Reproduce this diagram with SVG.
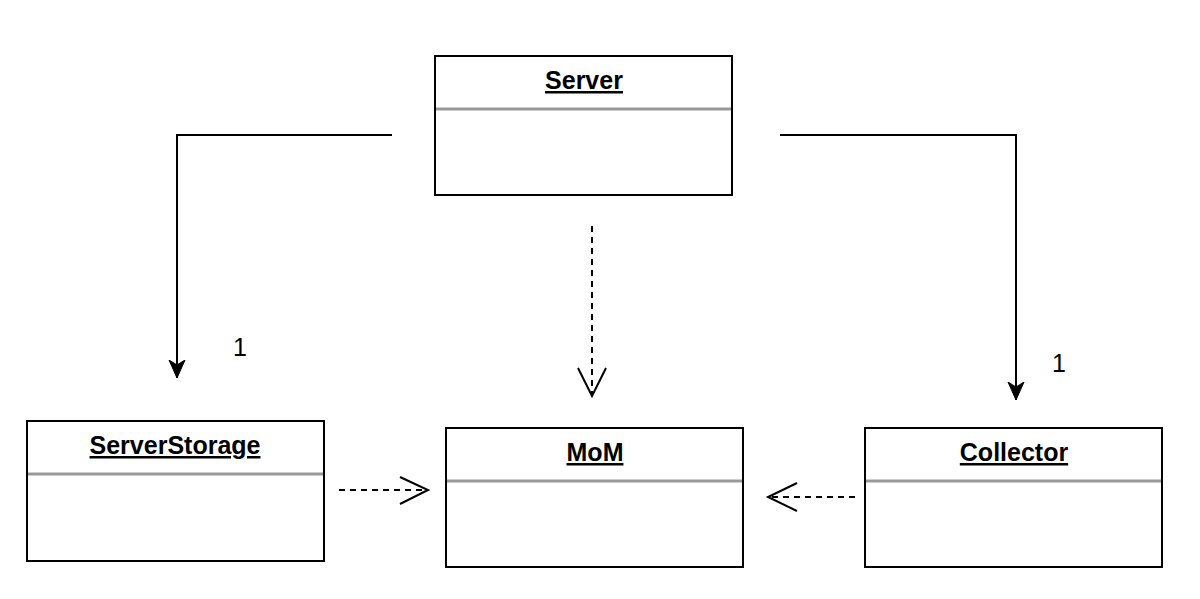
<svg xmlns="http://www.w3.org/2000/svg" width="1200" height="599" viewBox="0 0 1200 599">
<style>
.box{fill:#fff;stroke:#000;stroke-width:2}
.sep{stroke:#999;stroke-width:3}
.title{font-family:"Liberation Sans",Arial,sans-serif;font-weight:bold;font-size:25px;text-anchor:middle;text-decoration:underline;fill:#000}
.lbl{font-family:"Liberation Sans",Arial,sans-serif;font-size:25px;fill:#000;text-anchor:middle}
.solid{fill:none;stroke:#000;stroke-width:2}
.dash{fill:none;stroke:#000;stroke-width:2;stroke-dasharray:6 5}
.open{fill:none;stroke:#000;stroke-width:2}
</style>
<defs>
<marker id="filled" markerWidth="20" markerHeight="20" viewBox="0 0 20 20" refX="18" refY="10" orient="auto" markerUnits="userSpaceOnUse">
<path d="M0,2 L18,10 L0,18 L5,10 Z" fill="#000" stroke="#000" stroke-width="1"/>
</marker>
</defs>
<rect width="1200" height="599" fill="#fff"/>
<g id="Server">
<rect class="box" x="435" y="56" width="297" height="139"/>
<line class="sep" x1="436" y1="109" x2="731" y2="109"/>
<text class="title" x="584" y="89">Server</text>
</g>
<g id="ServerStorage">
<rect class="box" x="27" y="421" width="297" height="140"/>
<line class="sep" x1="28" y1="474" x2="323" y2="474"/>
<text class="title" x="175" y="454">ServerStorage</text>
</g>
<g id="MoM">
<rect class="box" x="446" y="428" width="297" height="139"/>
<line class="sep" x1="447" y1="481" x2="742" y2="481"/>
<text class="title" x="595" y="461">MoM</text>
</g>
<g id="Collector">
<rect class="box" x="865" y="428" width="297" height="139"/>
<line class="sep" x1="866" y1="481" x2="1161" y2="481"/>
<text class="title" x="1014" y="461">Collector</text>
</g>
<g id="connectors">
<path class="solid" d="M392,135 H177 V378" marker-end="url(#filled)"/>
<text class="lbl" x="240" y="356">1</text>
<path class="solid" d="M780,135 H1016 V400" marker-end="url(#filled)"/>
<text class="lbl" x="1059" y="372">1</text>
<line class="dash" x1="592" y1="226" x2="592" y2="394"/>
<polyline class="open" points="578,368 592,396 606,368"/>
<line class="dash" x1="339" y1="490" x2="426" y2="490"/>
<polyline class="open" points="400,477 428,490 400,504"/>
<line class="dash" x1="855" y1="497" x2="770" y2="497"/>
<polyline class="open" points="797,483 768,497 797,511"/>
</g>
</svg>
